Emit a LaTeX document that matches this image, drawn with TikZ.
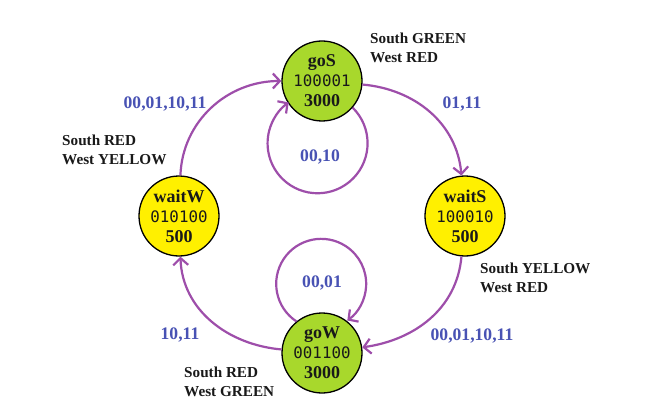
\documentclass[tikz,border=0pt]{standalone}
\usepackage{fontspec}
\setmainfont{Liberation Serif}
\newfontfamily\monofnt{DejaVu Sans Mono}
\usetikzlibrary{arrows.meta}
\definecolor{edgepurple}{RGB}{158,78,170}
\definecolor{lblblue}{RGB}{72,82,180}
\definecolor{gogreen}{RGB}{168,216,44}
\definecolor{waityellow}{RGB}{255,240,0}
\definecolor{annot}{RGB}{25,25,25}
\newcommand{\mnum}[1]{{\monofnt\fontsize{15.8}{20}\selectfont\mdseries #1}}
\tikzset{
  state/.style={circle, draw=black, line width=1.3pt, minimum size=80pt, inner sep=0pt,
    align=center, font=\bfseries\fontsize{18}{20}\selectfont, text=black!90},
  gostate/.style={state, fill=gogreen},
  waitstate/.style={state, fill=waityellow},
  trans/.style={draw=edgepurple, line width=2.2pt, -{Straight Barb[length=7pt,width=15pt]}},
  lbl/.style={font=\bfseries\fontsize{17.6}{20}\selectfont, text=lblblue, inner sep=0pt},
  annotation/.style={font=\bfseries\fontsize{15.2}{19.5}\selectfont, text=annot, align=left,
    anchor=west, inner sep=0pt}
}
\begin{document}
\begin{tikzpicture}[x=1pt,y=1pt]
\useasboundingbox (0,0) rectangle (658,-414);
\fill[white] (0,0) rectangle (658,-414);

\node[gostate]   (goS)   at (322,-81)  {goS\\\mnum{100001}\\3000};
\node[waitstate] (waitS) at (465,-216) {waitS\\\mnum{100010}\\500};
\node[gostate]   (goW)   at (322,-353) {goW\\\mnum{001100}\\3000};
\node[waitstate] (waitW) at (179,-216) {waitW\\\mnum{010100}\\500};

\draw[trans] (waitW) to[out=88, in=180] (goS);
\draw[trans] (goS) to[out=-5, in=95] (waitS);
\draw[trans] (waitS) to[out=-95, in=8] (goW);
\draw[trans] (goW) to[out=175, in=-88] (waitW);
\draw[trans] (goS.-41.2) arc[start angle=45.4, end angle=-234.7, radius=50pt];
\draw[trans] (goW.129.3) arc[start angle=236.6, end angle=-54.5, radius=45pt];

\node[lbl] (l1) at (165,-104) {00,01,10,11};
\node[lbl] (l2) at (462,-104) {01,11};
\node[lbl] (l3) at (320,-157) {00,10};
\node[lbl] (l4) at (322,-283) {00,01};
\node[lbl] (l5) at (180,-335) {10,11};
\node[lbl] (l6) at (472,-336) {00,01,10,11};

\node[annotation] (a1) at (370,-48)  {South GREEN\\West RED};
\node[annotation] (a2) at (62,-150)  {South RED\\West YELLOW};
\node[annotation] (a3) at (480,-278) {South YELLOW\\West RED};
\node[annotation] (a4) at (184,-382) {South RED\\West GREEN};
\end{tikzpicture}
\end{document}
